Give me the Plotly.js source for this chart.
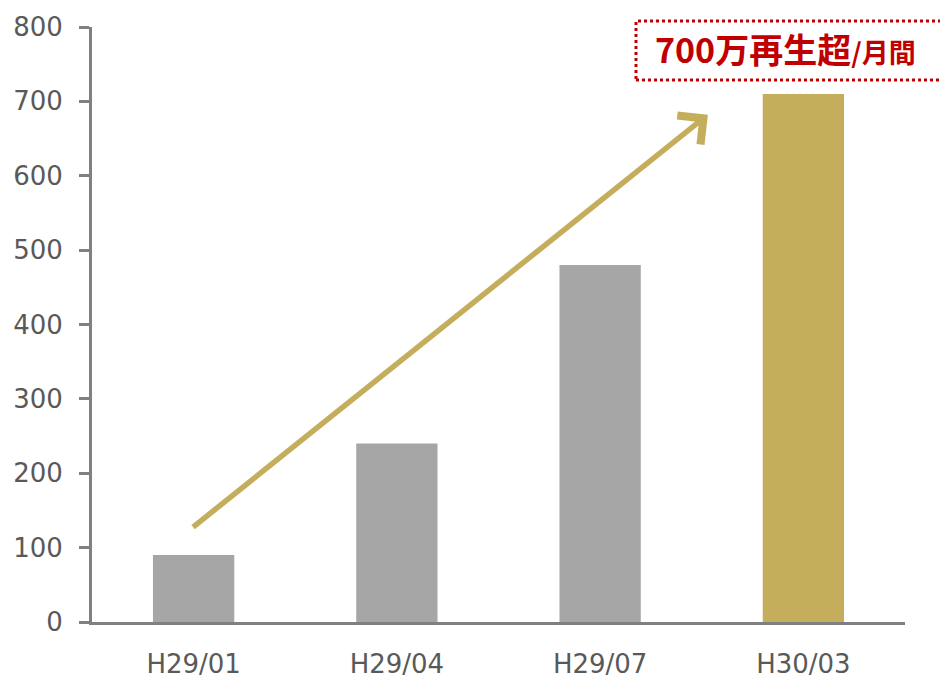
<!DOCTYPE html>
<html>
<head>
<meta charset="utf-8">
<script src="https://cdn.plot.ly/plotly-3.0.1.min.js"></script>
<style>html,body{margin:0;padding:0;background:#fff;}#chart{width:940px;height:679px;}</style>
</head>
<body>
<div id="chart"></div>
<script>
const categories = ["H29/01", "H29/04", "H29/07", "H30/03"];
const plays = [90, 240, 480, 710];
const barColors = ["#A6A6A6", "#A6A6A6", "#A6A6A6", "#C5AE5B"];
const yTicks = [0, 100, 200, 300, 400, 500, 600, 700, 800];
const arrowStart = [-0.01, 126];
const arrowEnd = [2.53, 682];
const calloutMain = "700万再生超";
const calloutSub = "/月間";

const L = 92, R = 35, T = 27, B = 57, W = 940, H = 679;
const PW = W - L - R, PH = H - T - B;
const px = p => (p - L) / PW;
const py = p => (H - B - p) / PH;

const trace = {
  type: "bar",
  x: categories,
  y: plays,
  marker: { color: barColors, line: { width: 0 } },
  hoverinfo: "skip"
};

const layout = {
  width: W, height: H,
  margin: { l: L, r: R, t: T, b: B, pad: 0 },
  paper_bgcolor: "#ffffff",
  plot_bgcolor: "#ffffff",
  showlegend: false,
  bargap: 0.6,
  font: { family: "DejaVu Sans, Verdana, sans-serif", color: "#595959", size: 26 },
  xaxis: {
    type: "category",
    showgrid: false, zeroline: false,
    showline: true, linecolor: "#808080", linewidth: 3,
    ticks: "", ticklabelstandoff: 17,
    tickfont: { size: 26, color: "#595959" },
    range: [-0.5, 3.5]
  },
  yaxis: {
    range: [0, 800],
    tickvals: yTicks,
    ticktext: yTicks.map(String),
    showgrid: false, zeroline: false,
    showline: true, linecolor: "#808080", linewidth: 3,
    ticks: "outside", ticklen: 10, tickwidth: 3, tickcolor: "#808080",
    ticklabelstandoff: 11,
    tickfont: { size: 26, color: "#595959" }
  },
  shapes: [{
    type: "rect", xref: "paper", yref: "paper",
    x0: px(636), x1: px(948), y0: py(80), y1: py(21),
    line: { color: "#C00000", width: 3, dash: "dot" },
    fillcolor: "rgba(0,0,0,0)"
  }],
  annotations: [
    {
      xref: "x", yref: "y", axref: "x", ayref: "y",
      x: arrowEnd[0], y: arrowEnd[1], ax: arrowStart[0], ay: arrowStart[1],
      showarrow: true, arrowhead: 4, arrowsize: 1.3, arrowwidth: 5.5,
      arrowcolor: "#C5AE5B", text: ""
    },
    {
      xref: "paper", yref: "paper",
      x: px(653), y: py(49), xanchor: "left", yanchor: "middle",
      showarrow: false,
      text: "<b>" + calloutMain + "<span style='font-size:27px'>" + calloutSub + "</span></b>",
      font: { family: "Noto Sans CJK JP, sans-serif", size: 34, color: "#C00000", weight: 900 }
    }
  ]
};

Plotly.newPlot("chart", [trace], layout, { staticPlot: true, displayModeBar: false });
</script>
</body>
</html>
